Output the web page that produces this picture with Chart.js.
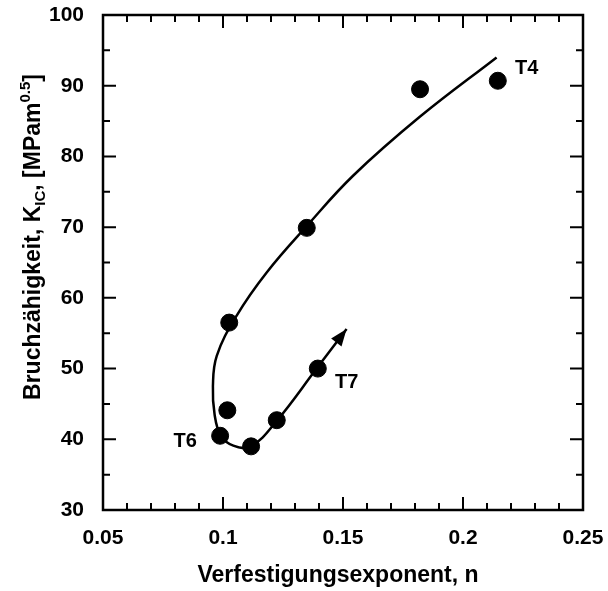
<!DOCTYPE html>
<html>
<head>
<meta charset="utf-8">
<script src="https://cdn.jsdelivr.net/npm/chart.js@4/dist/chart.umd.min.js"></script>
<style>
  html, body { margin: 0; padding: 0; background: #fff; }
  #wrap { width: 608px; height: 591px; }
</style>
</head>
<body>
<div id="wrap"><canvas id="chart"></canvas></div>
<script>
// measured specimens (hardening exponent n vs. fracture toughness K_IC)
const nValues = [0.0988, 0.1018, 0.1026, 0.1117, 0.1224, 0.1349, 0.1395, 0.1821, 0.2145];
const kicValues = [40.5, 44.1, 56.5, 39.0, 42.7, 69.9, 50.0, 89.5, 90.7];

// hand drawn trend curve (from top end down and round to the arrow)
const curveN = [0.2140, 0.1820, 0.1543, 0.1350, 0.1182, 0.1057, 0.0974, 0.0958, 0.0965, 0.0990, 0.1043, 0.1117, 0.1224, 0.1390, 0.1515];
const curveK = [94.0, 85.6, 77.3, 70.2, 63.6, 57.5, 51.8, 47.5, 43.5, 40.6, 39.1, 39.0, 42.6, 50.0, 55.6];

// condition labels and where they sit (data units)
const stateNames = ['T4', 'T6', 'T7'];
const stateN = [0.2265, 0.0842, 0.1515];
const stateK = [92.5, 39.7, 48.1];

const FONT = '"Liberation Sans", Arial, Helvetica, sans-serif';

const framePlugin = {
  id: 'frame',
  afterDatasetsDraw(chart) {
    const { ctx, chartArea: a, scales } = chart;
    const xs = scales.x, ys = scales.y;
    ctx.save();
    ctx.strokeStyle = '#000';
    ctx.fillStyle = '#000';

    // box
    ctx.lineWidth = 2.5;
    ctx.strokeRect(a.left, a.top, a.right - a.left, a.bottom - a.top);

    // inward ticks on all four sides
    ctx.lineWidth = 2;
    ctx.beginPath();
    for (let i = 5; i <= 25; i++) {
      const px = xs.getPixelForValue(i / 100);
      const len = i % 5 === 0 ? 13 : 7;
      ctx.moveTo(px, a.bottom); ctx.lineTo(px, a.bottom - len);
      ctx.moveTo(px, a.top); ctx.lineTo(px, a.top + len);
    }
    for (let v = 30; v <= 100; v += 5) {
      const py = ys.getPixelForValue(v);
      const len = v % 10 === 0 ? 13 : 7;
      ctx.moveTo(a.left, py); ctx.lineTo(a.left + len, py);
      ctx.moveTo(a.right, py); ctx.lineTo(a.right - len, py);
    }
    ctx.stroke();

    // arrow head at the end of the curve
    const last = curveN.length - 1;
    const tx = xs.getPixelForValue(curveN[last]), ty = ys.getPixelForValue(curveK[last]);
    const bx = xs.getPixelForValue(curveN[last - 1]), by = ys.getPixelForValue(curveK[last - 1]);
    const ang = Math.atan2(ty - by, tx - bx);
    const hl = 17, hw = 6.5;
    ctx.beginPath();
    ctx.moveTo(tx, ty);
    ctx.lineTo(tx - hl * Math.cos(ang) + hw * Math.sin(ang), ty - hl * Math.sin(ang) - hw * Math.cos(ang));
    ctx.lineTo(tx - hl * Math.cos(ang) - hw * Math.sin(ang), ty - hl * Math.sin(ang) + hw * Math.cos(ang));
    ctx.closePath();
    ctx.fill();

    // T labels
    ctx.font = 'bold 20px ' + FONT;
    ctx.textAlign = 'center';
    ctx.textBaseline = 'middle';
    stateNames.forEach((s, i) => {
      ctx.fillText(s, xs.getPixelForValue(stateN[i]), ys.getPixelForValue(stateK[i]));
    });

    // x axis title
    ctx.font = 'bold 23px ' + FONT;
    ctx.textBaseline = 'alphabetic';
    ctx.fillText('Verfestigungsexponent, n', (a.left + a.right) / 2 - 5, 582);

    // y axis title with sub- and superscript
    const parts = [
      { t: 'Bruchzähigkeit, K', f: 'bold 23px ', dy: 0 },
      { t: 'IC', f: 'bold 15px ', dy: 5 },
      { t: ', [MPam', f: 'bold 23px ', dy: 0 },
      { t: '0.5', f: 'bold 15px ', dy: -10 },
      { t: ']', f: 'bold 23px ', dy: 0 }
    ];
    let total = 0;
    parts.forEach(p => { ctx.font = p.f + FONT; p.w = ctx.measureText(p.t).width; total += p.w; });
    ctx.translate(40, 237);
    ctx.rotate(-Math.PI / 2);
    ctx.textAlign = 'left';
    let cx = -total / 2;
    parts.forEach(p => {
      ctx.font = p.f + FONT;
      ctx.fillText(p.t, cx, p.dy);
      cx += p.w;
    });
    ctx.restore();
  }
};

new Chart(document.getElementById('chart'), {
  type: 'scatter',
  data: {
    datasets: [
      {
        label: 'Messwerte',
        data: nValues.map((n, i) => ({ x: n, y: kicValues[i] })),
        backgroundColor: '#000',
        borderColor: '#000',
        pointRadius: 8.5,
        pointHoverRadius: 8.5,
        order: 1
      },
      {
        label: 'Trend',
        type: 'line',
        data: curveN.map((n, i) => ({ x: n, y: curveK[i] })),
        borderColor: '#000',
        borderWidth: 2.5,
        pointRadius: 0,
        fill: false,
        tension: 0.4,
        order: 2
      }
    ]
  },
  options: {
    responsive: true,
    maintainAspectRatio: false,
    animation: false,
    layout: { padding: { left: 0, top: 15, right: 25, bottom: 0 } },
    plugins: {
      legend: { display: false },
      tooltip: { enabled: false }
    },
    scales: {
      x: {
        type: 'linear',
        min: 0.05,
        max: 0.25,
        grid: { display: false, drawTicks: false },
        border: { display: false },
        ticks: {
          stepSize: 0.05,
          padding: 16,
          color: '#000',
          font: { family: FONT, size: 21, weight: 'bold' },
          callback: v => String(Math.round(v * 100) / 100)
        },
        afterFit: s => { s.height = 81; s.paddingLeft = 0; s.paddingRight = 0; }
      },
      y: {
        min: 30,
        max: 100,
        grid: { display: false, drawTicks: false },
        border: { display: false },
        ticks: {
          stepSize: 10,
          padding: 19,
          color: '#000',
          font: { family: FONT, size: 21, weight: 'bold' }
        },
        afterFit: s => { s.width = 103; s.paddingTop = 0; s.paddingBottom = 0; }
      }
    }
  },
  plugins: [framePlugin]
});
</script>
</body>
</html>
